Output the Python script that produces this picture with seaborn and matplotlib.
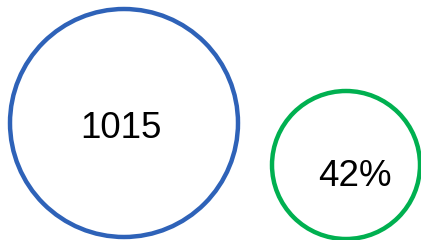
import matplotlib
matplotlib.use("Agg")
import matplotlib.pyplot as plt
from matplotlib.patches import Circle
import seaborn as sns

labels = ["1015", "42%"]
colors = ["#2E62B8", "#00B050"]

sns.set_theme(style="white")
plt.rcParams['font.family'] = ['Liberation Sans', 'DejaVu Sans']

W, H = 421, 240
fig = plt.figure(figsize=(W / 100, H / 100), dpi=100)
ax = fig.add_axes([0, 0, 1, 1])
ax.set_xlim(0, W)
ax.set_ylim(H, 0)
ax.set_axis_off()

# layout (pixel units): circle centers, radii, text positions (baseline)
centers = [(124, 123), (346, 165)]
radii = [114, 74]
text_pos = [(121, 138.5), (355, 186)]
font_sizes = [26.5, 26.5]

for lab, col, c, r, tp, fs in zip(labels, colors, centers, radii, text_pos, font_sizes):
    ax.add_patch(Circle(c, r, fill=False, edgecolor=col, linewidth=3.2))
    ax.text(tp[0], tp[1], lab, ha="center", va="baseline", fontsize=fs, color="black")

fig.savefig("out.png", dpi=100)
